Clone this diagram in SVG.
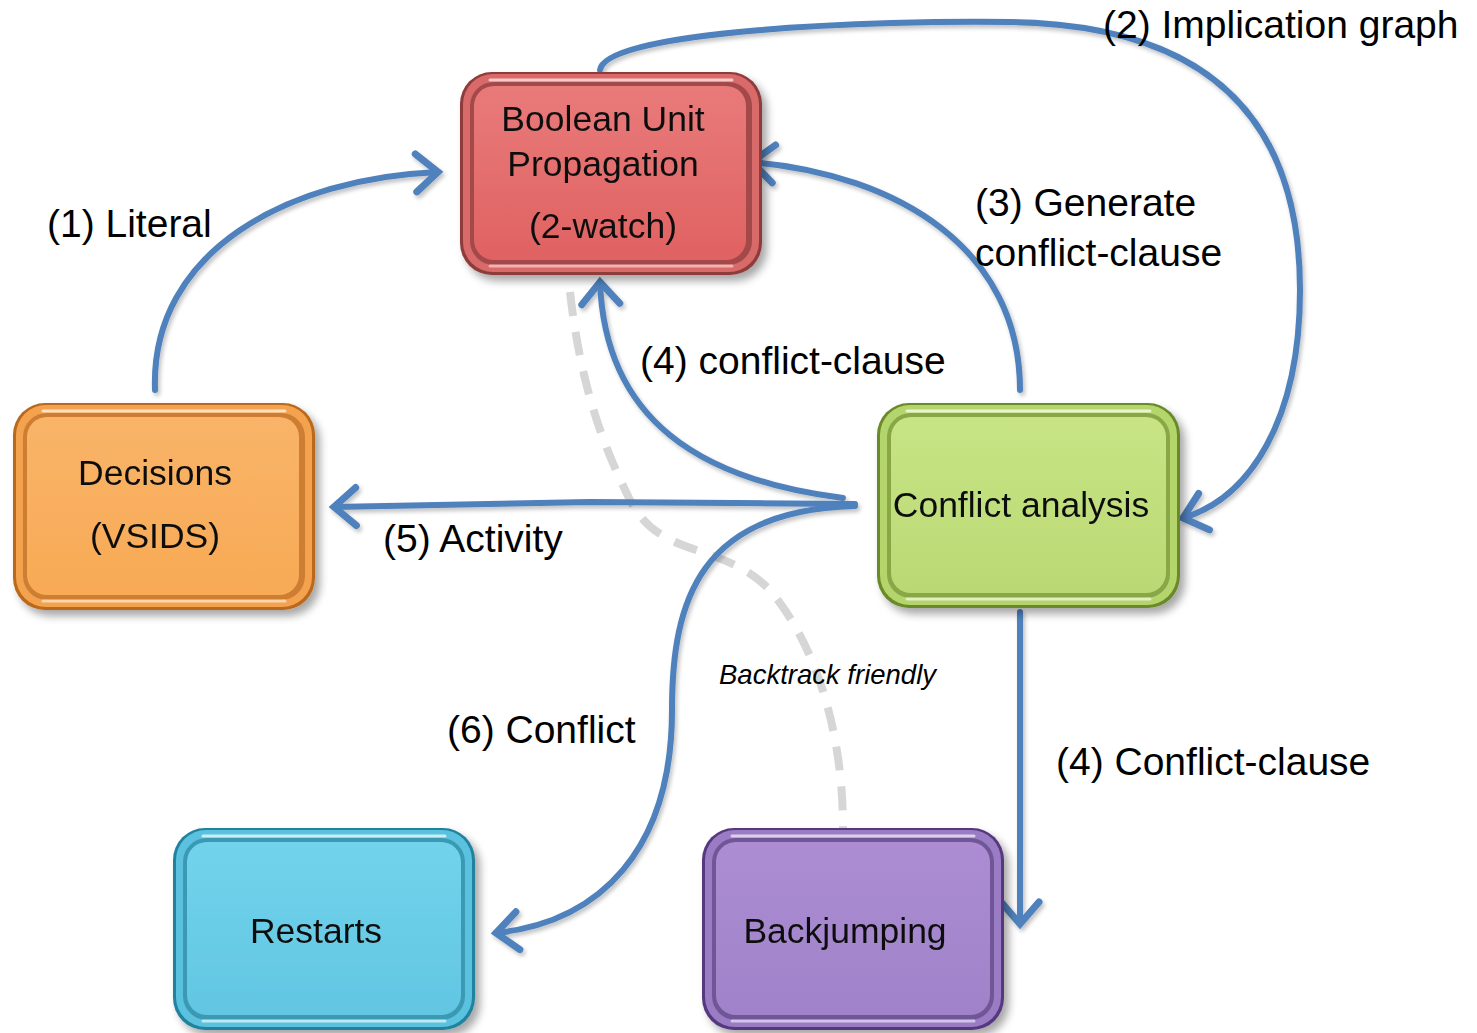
<svg xmlns="http://www.w3.org/2000/svg" width="1477" height="1033" viewBox="0 0 1477 1033">
<defs>
  <style>
    .lbl{font-family:"Liberation Sans",Arial,sans-serif;font-size:39px;fill:#000}
    .ntx{font-family:"Liberation Sans",Arial,sans-serif;font-size:35.5px;fill:#111;text-anchor:middle}
    .it{font-family:"Liberation Sans",Arial,sans-serif;font-size:27.5px;font-style:italic;fill:#000}
    .con{fill:none;stroke:#4F81BD;stroke-width:6;stroke-linecap:round;stroke-linejoin:round}
    .dash{fill:none;stroke:#D6D6D6;stroke-width:8;stroke-dasharray:24 16}
  </style>
  <filter id="sh" x="-10%" y="-10%" width="125%" height="125%">
    <feGaussianBlur in="SourceAlpha" stdDeviation="4"/>
    <feOffset dx="5" dy="6" result="b"/>
    <feComponentTransfer><feFuncA type="linear" slope="0.35"/></feComponentTransfer>
    <feMerge><feMergeNode/><feMergeNode in="SourceGraphic"/></feMerge>
  </filter>
  <filter id="lsh" x="-5%" y="-5%" width="110%" height="110%">
    <feGaussianBlur in="SourceAlpha" stdDeviation="2"/>
    <feOffset dx="2" dy="3" result="b"/>
    <feComponentTransfer><feFuncA type="linear" slope="0.25"/></feComponentTransfer>
    <feMerge><feMergeNode/><feMergeNode in="SourceGraphic"/></feMerge>
  </filter>
  <marker id="ah" markerUnits="userSpaceOnUse" markerWidth="60" markerHeight="60" viewBox="-30 -30 60 60" refX="0" refY="0" orient="auto" overflow="visible">
    <path d="M-22,-19 L0,0 L-22,19" fill="none" stroke="#4F81BD" stroke-width="7" stroke-linecap="round" stroke-linejoin="miter"/>
  </marker>
  <linearGradient id="gRed" x1="0" y1="0" x2="0" y2="1"><stop offset="0" stop-color="#E97A7A"/><stop offset="1" stop-color="#E06262"/></linearGradient>
  <linearGradient id="gOra" x1="0" y1="0" x2="0" y2="1"><stop offset="0" stop-color="#F9B468"/><stop offset="1" stop-color="#F8AA55"/></linearGradient>
  <linearGradient id="gGrn" x1="0" y1="0" x2="0" y2="1"><stop offset="0" stop-color="#C8E484"/><stop offset="1" stop-color="#BAD974"/></linearGradient>
  <linearGradient id="gCyn" x1="0" y1="0" x2="0" y2="1"><stop offset="0" stop-color="#72D3EC"/><stop offset="1" stop-color="#62C6E2"/></linearGradient>
  <linearGradient id="gPur" x1="0" y1="0" x2="0" y2="1"><stop offset="0" stop-color="#AC8DD3"/><stop offset="1" stop-color="#9F82C9"/></linearGradient>
</defs>
<rect width="1477" height="1033" fill="#fff"/>

<g id="connectors">
  <path class="dash" d="M570,292 C580,380 600,440 630,500 C660,560 720,540 770,590 C820,650 843,740 843,828"/>
  <g filter="url(#lsh)">
  <path class="con" marker-end="url(#ah)" d="M155,390 C150,250 290,178 438,172"/>
  <path class="con" marker-end="url(#ah)" d="M600,70 C605,30 880,20 1010,22 C1220,25 1300,130 1300,290 C1300,420 1250,498 1183,518"/>
  <path class="con" marker-end="url(#ah)" d="M1020,390 C1020,250 900,175 752,162"/>
  <path class="con" marker-end="url(#ah)" d="M843,498 C700,480 605,420 600,282"/>
  <path class="con" marker-end="url(#ah)" d="M855,504 L590,502 L334,507"/>
  <path class="con" marker-end="url(#ah)" d="M855,506 C700,510 672,600 672,710 C672,850 600,922 496,933"/>
  <path class="con" marker-end="url(#ah)" d="M1020,612 L1020,924"/>
  </g>
</g>

<g id="bup" filter="url(#sh)">
  <rect x="460" y="72" width="302" height="203" rx="32" fill="#8E3B3B"/>
  <rect x="463" y="74" width="296" height="198" rx="30" fill="#D86A6A"/>
  <rect x="470" y="82" width="282" height="183" rx="24" fill="#7A2E2E" opacity="0.55"/>
  <rect x="474" y="86" width="272" height="174" rx="20" fill="url(#gRed)"/>
  <path d="M490,80 L732,80" stroke="#F7C9C9" stroke-width="3" stroke-linecap="round"/>
  <path d="M490,266 L732,266" stroke="#F3B1B1" stroke-width="3" stroke-linecap="round"/>
  <text class="ntx" x="603" y="131">Boolean Unit</text>
  <text class="ntx" x="603" y="176">Propagation</text>
  <text class="ntx" x="603" y="238">(2-watch)</text>
</g>

<g id="decisions" filter="url(#sh)">
  <rect x="13" y="403" width="302" height="207" rx="32" fill="#B8691E"/>
  <rect x="16" y="405" width="296" height="202" rx="30" fill="#F4A24E"/>
  <rect x="23" y="413" width="282" height="187" rx="24" fill="#A55A12" opacity="0.5"/>
  <rect x="27" y="417" width="272" height="178" rx="20" fill="url(#gOra)"/>
  <path d="M43,411 L285,411" stroke="#FCE0BF" stroke-width="3" stroke-linecap="round"/>
  <path d="M43,601 L285,601" stroke="#FCD6AA" stroke-width="3" stroke-linecap="round"/>
  <text class="ntx" x="155" y="485">Decisions</text>
  <text class="ntx" x="155" y="548">(VSIDS)</text>
</g>

<g id="conflict" filter="url(#sh)">
  <rect x="877" y="403" width="303" height="205" rx="32" fill="#6A8A2A"/>
  <rect x="880" y="405" width="297" height="200" rx="30" fill="#B4D46C"/>
  <rect x="887" y="413" width="283" height="185" rx="24" fill="#5C7A20" opacity="0.5"/>
  <rect x="891" y="417" width="275" height="176" rx="20" fill="url(#gGrn)"/>
  <path d="M907,411 L1150,411" stroke="#EAF5CF" stroke-width="3" stroke-linecap="round"/>
  <path d="M907,599 L1150,599" stroke="#E2F0C0" stroke-width="3" stroke-linecap="round"/>
  <text class="ntx" x="1021" y="517">Conflict analysis</text>
</g>

<g id="restarts" filter="url(#sh)">
  <rect x="173" y="828" width="302" height="202" rx="32" fill="#23829E"/>
  <rect x="176" y="830" width="296" height="197" rx="30" fill="#5AC2DF"/>
  <rect x="183" y="838" width="282" height="182" rx="24" fill="#1B6F88" opacity="0.5"/>
  <rect x="187" y="842" width="274" height="173" rx="20" fill="url(#gCyn)"/>
  <path d="M203,836 L445,836" stroke="#C9EEF8" stroke-width="3" stroke-linecap="round"/>
  <path d="M203,1021 L445,1021" stroke="#BDE9F5" stroke-width="3" stroke-linecap="round"/>
  <text class="ntx" x="316" y="943">Restarts</text>
</g>

<g id="backjumping" filter="url(#sh)">
  <rect x="702" y="828" width="302" height="202" rx="32" fill="#55387E"/>
  <rect x="705" y="830" width="296" height="197" rx="30" fill="#9A7CC4"/>
  <rect x="712" y="838" width="282" height="182" rx="24" fill="#47306A" opacity="0.5"/>
  <rect x="716" y="842" width="274" height="173" rx="20" fill="url(#gPur)"/>
  <path d="M732,836 L974,836" stroke="#DDD0EE" stroke-width="3" stroke-linecap="round"/>
  <path d="M732,1021 L974,1021" stroke="#D3C4EA" stroke-width="3" stroke-linecap="round"/>
  <text class="ntx" x="845" y="943">Backjumping</text>
</g>

<g id="labels">
  <text class="lbl" x="1103" y="38">(2) Implication graph</text>
  <text class="lbl" x="47" y="237">(1) Literal</text>
  <text class="lbl" x="975" y="216">(3) Generate</text>
  <text class="lbl" x="975" y="266">conflict-clause</text>
  <text class="lbl" x="640" y="374">(4) conflict-clause</text>
  <text class="lbl" x="383" y="552">(5) Activity</text>
  <text class="lbl" x="447" y="743">(6) Conflict</text>
  <text class="lbl" x="1056" y="775">(4) Conflict-clause</text>
  <text class="it" x="719" y="684">Backtrack friendly</text>
</g>
</svg>
